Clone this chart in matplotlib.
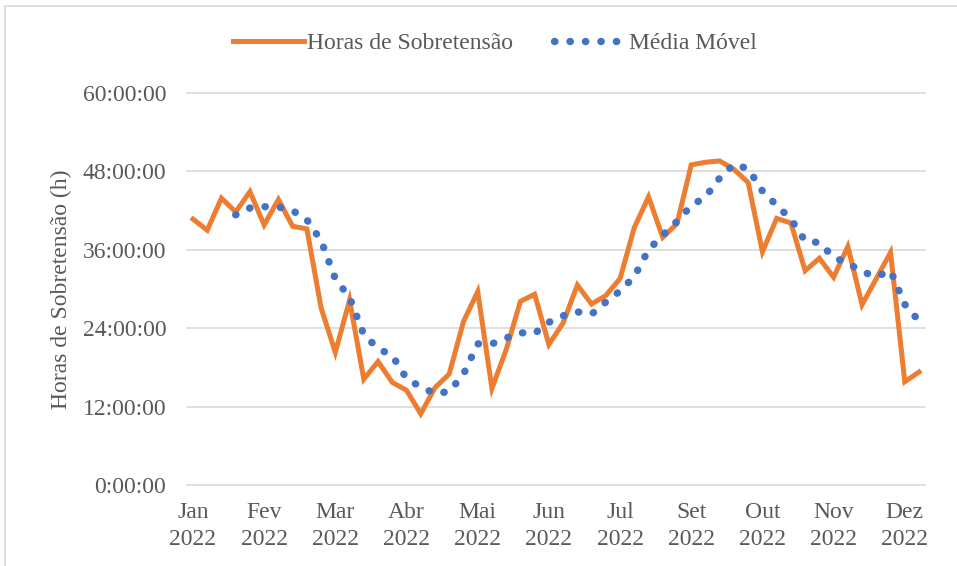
import numpy as np
import matplotlib
matplotlib.use('Agg')
import matplotlib.pyplot as plt
from matplotlib.ticker import FuncFormatter
from matplotlib.patches import Rectangle

# weekly hours of overvoltage, 2022
horas = [40.7, 39.0, 43.9, 41.8, 44.9, 39.8, 43.7, 39.6, 39.2, 27.1,
         20.3, 28.3, 16.2, 18.9, 15.7, 14.5, 10.9, 14.9, 17.0, 25.0,
         29.6, 14.8, 20.7, 28.1, 29.2, 21.5, 24.8, 30.6, 27.7, 29.0,
         31.6, 39.4, 44.1, 37.9, 40.0, 49.0, 49.4, 49.6, 48.3, 46.3,
         35.7, 40.8, 40.1, 32.8, 34.7, 31.8, 36.5, 27.6, 31.6, 35.6,
         15.8, 17.3]
# moving average trendline (starts at week 4)
media = [np.nan, np.nan, np.nan, 41.35, 42.4, 42.6, 42.55, 42.0, 40.6, 37.4,
         31.55, 28.7, 23.0, 20.9, 19.8, 16.3, 15.0, 14.0, 14.3, 16.95,
         21.6, 21.6, 22.5, 23.3, 23.2, 24.9, 25.9, 26.5, 26.15, 28.0,
         29.7, 31.9, 36.0, 38.25, 40.35, 42.75, 44.1, 47.0, 49.1, 48.4,
         45.0, 42.8, 40.7, 37.35, 37.1, 34.85, 33.95, 32.65, 31.9, 32.8,
         27.65, 25.1]
meses = ['Jan', 'Fev', 'Mar', 'Abr', 'Mai', 'Jun', 'Jul', 'Set', 'Out', 'Nov', 'Dez']
tick_pos = [0, 5, 10, 15, 20, 25, 30, 35, 40, 45, 50]

plt.rcParams['font.family'] = ['Liberation Serif', 'DejaVu Serif']
cinza = '#595959'

fig = plt.figure(figsize=(9.57, 5.66), dpi=100)
ax = fig.add_axes([187/957, 1-485/566, 738/957, 392/566])

x = np.arange(len(horas))
ax.plot(x, horas, color='#ED7D31', lw=3.6, solid_joinstyle='miter',
        label='Horas de Sobretensão', zorder=3)
ax.plot(x, media, color='#4472C4', lw=5.3, linestyle=(0, (0.05, 2.05)),
        dash_capstyle='round', label='Média Móvel', zorder=4)

ax.set_xlim(-0.42, 51.42)
ax.set_ylim(0, 60)
ax.set_yticks(np.arange(0, 61, 12))
ax.yaxis.set_major_formatter(FuncFormatter(lambda v, p: '%d:00:00' % v))
ax.set_xticks(tick_pos)
ax.set_xticklabels([m + '\n2022' for m in meses], linespacing=1.4)
ax.tick_params(axis='both', length=0, labelsize=17, labelcolor=cinza)
ax.tick_params(axis='y', pad=15)
ax.tick_params(axis='x', pad=12)
ax.grid(axis='y', color='#D9D9D9', lw=1.2, zorder=0)
for gl in ax.yaxis.get_gridlines():
    gl.set_clip_on(False)
for s in ax.spines.values():
    s.set_visible(False)

ax.set_ylabel('Horas de Sobretensão (h)', fontsize=17, color=cinza)
ax.yaxis.set_label_coords(-0.156, 0.5)

fig.legend(loc='center', bbox_to_anchor=(0.517, 1-43/566), ncol=2, frameon=False,
           fontsize=17, labelcolor=cinza, handlelength=3.0, handletextpad=0.15,
           columnspacing=1.75)

fig.patches.append(Rectangle((5/957, -0.05), 1.1, 1.05 - 6/566, transform=fig.transFigure,
                             fill=False, edgecolor='#D9D9D9', lw=1.2))

fig.savefig('out.png', dpi=100)
